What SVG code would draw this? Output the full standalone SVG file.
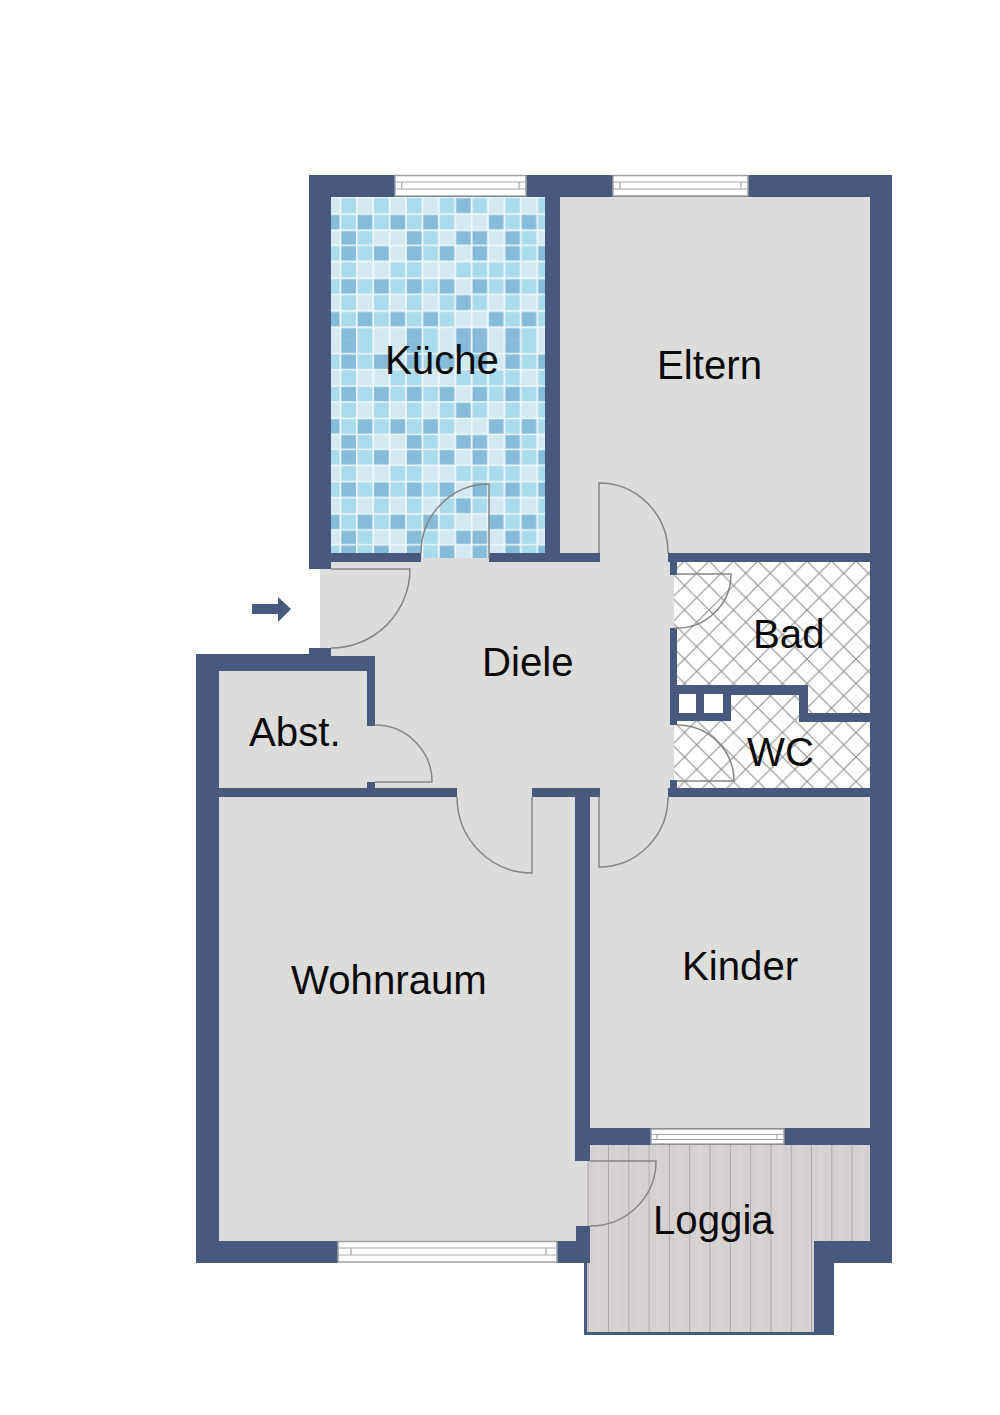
<svg xmlns="http://www.w3.org/2000/svg" width="1000" height="1415" viewBox="0 0 1000 1415">
<style>
.floor{fill:#dcdcdb}
.wall{fill:#475a7e}
.door{fill:none;stroke:#858585;stroke-width:1.5}
.win{fill:#fff;stroke:#a0a0a0;stroke-width:1.5}
.winl{fill:none;stroke:#a6a6a6;stroke-width:1.2}
.label{font-family:"Liberation Sans",Arial,sans-serif;font-size:40.2px;fill:#0a0a0a}
.m{fill:none;stroke:#aadaec}
.d{fill:none;stroke:#86bcd8}
</style>
<defs>
<g id="tiles">
<rect width="229.6" height="96" fill="#d2e9f2"/>
<path class="m" stroke-width="16.5" stroke-dasharray="16.4" d="M16.4 8.25H229.6"/>
<path class="d" stroke-width="16.5" d="M131.2 8.25h16.4"/>
<path class="m" stroke-width="16" d="M16.4 24.5h16.4M49.2 24.5h16.4M82 24.5h16.4M114.8 24.5h16.4M180.4 24.5h16.4M213.2 24.5h16.4"/>
<path class="d" stroke-width="16" d="M0 24.5h16.4M32.8 24.5h16.4M65.6 24.5h16.4M98.4 24.5h16.4M164 24.5h16.4M196.8 24.5h16.4"/>
<path class="m" stroke-width="15" d="M32.8 40h16.4M98.4 40h16.4M196.8 40h16.4"/>
<path class="d" stroke-width="15" d="M16.4 40h16.4M82 40h16.4M131.2 40h32.8M180.4 40h16.4"/>
<path class="m" stroke-width="16" d="M0 55.5h16.4M32.8 55.5h16.4M98.4 55.5h16.4M196.8 55.5h16.4"/>
<path class="d" stroke-width="16" d="M16.4 55.5h16.4M49.2 55.5h16.4M82 55.5h16.4M114.8 55.5h16.4M147.6 55.5h16.4M180.4 55.5h16.4M213.2 55.5h16.4"/>
<path class="m" stroke-width="16.5" d="M16.4 71.75h16.4M65.6 71.75h32.8M131.2 71.75h65.6M213.2 71.75h16.4"/>
<path class="m" stroke-width="16" d="M0 88h16.4M32.8 88h16.4M65.6 88h16.4M98.4 88h16.4M164 88h16.4M196.8 88h16.4"/>
<path class="d" stroke-width="16" d="M16.4 88h16.4M49.2 88h16.4M82 88h16.4M114.8 88h16.4M147.6 88h16.4M180.4 88h16.4M213.2 88h16.4"/>
<path fill="none" stroke="#f1f9fb" stroke-width="1.7" d="M0 0V96M16.4 0V96M32.8 0V96M49.2 0V96M65.6 0V96M82 0V96M98.4 0V96M114.8 0V96M131.2 0V96M147.6 0V96M164 0V96M180.4 0V96M196.8 0V96M213.2 0V96M229.6 0V96M0 0H229.6M0 16.5H229.6M0 32.5H229.6M0 47.5H229.6M0 63.5H229.6M0 80H229.6M0 96H229.6"/>
</g>
<pattern id="tileA" patternUnits="userSpaceOnUse" width="229.6" height="96" patternTransform="translate(324 197.4) scale(1 1.01)"><use href="#tiles"/></pattern>
<pattern id="tileB" patternUnits="userSpaceOnUse" width="229.6" height="96" patternTransform="translate(324 306.5) scale(1 .995)"><use href="#tiles"/></pattern>
<pattern id="hatch" patternUnits="userSpaceOnUse" width="24.5" height="24.5" patternTransform="translate(758 708)">
<rect width="24.5" height="24.5" fill="#fff"/>
<path d="M-2 -2L26.500 26.500M26.500 -2L-2 26.500" stroke="#8f8f8f" stroke-width="1.1"/>
</pattern>
<pattern id="wood" patternUnits="userSpaceOnUse" width="20.3" height="190" patternTransform="translate(588.7 1145)">
<rect width="20.3" height="190" fill="#d5d1d0"/>
<rect x="6" width="6" height="190" fill="#d8d4d3"/>
<path d="M20.3 0V190" stroke="#8e8a8a" stroke-width="1.1"/>
</pattern>
</defs>
<rect width="1000" height="1415" fill="#fff"/>
<g id="rooms">
<rect id="room-kueche-a" x="331" y="197" width="214" height="143" fill="url(#tileA)"/>
<rect id="room-kueche-b" x="331" y="340" width="214" height="218" fill="url(#tileB)"/>
<rect id="room-eltern" class="floor" x="560" y="197" width="310" height="356"/>
<path id="room-diele" class="floor" d="M320 558H670V562H674V788H670V797H600V788H532V797H457V788H320Z"/>
<rect x="600" y="553" width="70" height="9" class="floor"/>
<rect id="room-abst" class="floor" x="219" y="671" width="150" height="117"/>
<rect id="room-bad-wc" x="674" y="562" width="196" height="226" fill="url(#hatch)"/>
<rect id="room-kinder" class="floor" x="590" y="797" width="280" height="331"/>
<rect id="room-wohnraum" class="floor" x="219" y="797" width="357" height="444"/>
<rect class="floor" x="576" y="1161" width="11" height="65"/>
<path id="room-loggia" fill="url(#wood)" d="M587 1145H870V1241H814V1332H587Z"/>
</g>
<g id="walls" class="wall">
<rect x="309" y="175" width="583" height="22"/>
<rect x="309" y="175" width="22" height="394"/>
<rect x="331" y="553" width="90" height="9"/>
<rect x="489" y="553" width="111" height="9"/>
<rect x="545" y="175" width="15" height="378"/>
<rect x="870" y="175" width="22" height="1088"/>
<rect x="668" y="553" width="202" height="9"/>
<rect x="670" y="553" width="7" height="22"/>
<rect x="670" y="628" width="7" height="97"/>
<rect x="677" y="685" width="131" height="10"/>
<rect x="677" y="685" width="54" height="36"/>
<rect x="799" y="685" width="9" height="37"/>
<rect x="799" y="713" width="71" height="9"/>
<rect x="670" y="780" width="7" height="8"/>
<rect x="668" y="788" width="202" height="9"/>
<rect x="532" y="788" width="68" height="9"/>
<rect x="575" y="788" width="15" height="373"/>
<rect x="576" y="1226" width="14" height="37"/>
<rect x="557" y="1241" width="33" height="22"/>
<rect x="590" y="1128" width="280" height="17"/>
<rect x="196" y="1241" width="142" height="22"/>
<rect x="196" y="654" width="23" height="609"/>
<rect x="196" y="654" width="113" height="17"/>
<rect x="309" y="648" width="22" height="23"/>
<rect x="331" y="656" width="44" height="15"/>
<rect x="367" y="656" width="8" height="70"/>
<rect x="367" y="782" width="8" height="6"/>
<rect x="219" y="788" width="238" height="9"/>
<rect x="814" y="1241" width="78" height="22"/>
<rect x="814" y="1241" width="20" height="94"/>
<rect x="584" y="1332" width="250" height="3"/>
<rect x="584" y="1263" width="3" height="72"/>
</g>
<g id="shafts" fill="#fff">
<rect x="679" y="694" width="17" height="19"/>
<rect x="704" y="694" width="19" height="19"/>
</g>
<g id="windows">
<g id="win-kueche"><rect class="win" x="395" y="175.500" width="131" height="20.500"/><path class="winl" d="M395 182H526M395 189H526M401.700 182V189M519 182V189"/></g>
<g id="win-eltern"><rect class="win" x="613" y="175.500" width="135" height="20.500"/><path class="winl" d="M613 182H748M613 189H748M620 182V189M741 182V189"/></g>
<g id="win-kinder"><rect class="win" x="651" y="1129" width="133" height="15"/><path class="winl" d="M651 1134.500H784M651 1139.500H784M657 1134.500V1139.500M777 1134.500V1139.500"/></g>
<g id="win-wohnraum"><rect class="win" x="338" y="1241.500" width="219" height="20.500"/><path class="winl" d="M338 1248H557M338 1255H557M351 1248V1255M546 1248V1255"/></g>
</g>
<g id="doors" class="door">
<path d="M331 569H410A79 79 0 0 1 331 648"/>
<path d="M421 553A68 69 0 0 1 489 484V558"/>
<path d="M599 553V483A69 70 0 0 1 668 553"/>
<path d="M677 574H731A54 54 0 0 1 674 628"/>
<path d="M677 781H734A57 56 0 0 0 677 725"/>
<path d="M375 782H432A57 57 0 0 0 375 725"/>
<path d="M457 797A75 76 0 0 0 532 873V797"/>
<path d="M668 797A69 70 0 0 1 599 867V797"/>
<path d="M590 1161H656A66 65 0 0 1 590 1226"/>
</g>
<path id="entry-arrow" class="wall" d="M252 604H278V597L291 609L278 622V614H252Z"/>
<g id="labels" class="label">
<text x="385" y="374">Küche</text>
<text x="657" y="379">Eltern</text>
<text x="482" y="676">Diele</text>
<text x="753" y="648">Bad</text>
<text x="747" y="766">WC</text>
<text x="249" y="746">Abst.</text>
<text x="291" y="994">Wohnraum</text>
<text x="682" y="980">Kinder</text>
<text x="653" y="1234">Loggia</text>
</g>
</svg>
